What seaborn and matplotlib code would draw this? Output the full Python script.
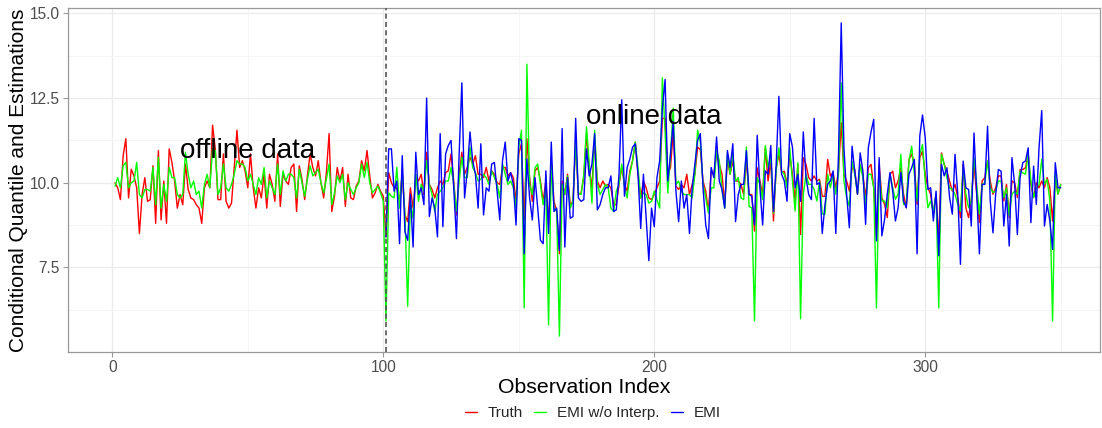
import numpy as np
import pandas as pd
import matplotlib
matplotlib.use("Agg")
import matplotlib.pyplot as plt
from matplotlib.lines import Line2D
import seaborn as sns

# ---------------- data ----------------
obs_index = list(range(1, 351))
online_start = 101
split_line = 101

truth = [
    10.0, 9.85, 9.5, 10.8, 11.3, 9.55, 10.4, 10.2, 9.85, 8.5,
    9.65, 10.15, 9.45, 9.5, 10.5, 8.8, 10.95, 8.9, 10.05, 8.8,
    11.0, 10.6, 10.05, 9.25, 9.65, 9.35, 10.55, 9.8, 9.55, 9.5,
    9.35, 9.25, 8.8, 9.85, 10.05, 9.85, 11.7, 11.0, 9.5, 9.5,
    10.85, 9.45, 9.25, 9.4, 10.45, 11.55, 10.45, 10.65, 10.35, 9.85,
    10.85, 9.85, 9.25, 9.85, 9.55, 10.25, 9.25, 10.25, 9.95, 9.45,
    10.85, 9.3, 10.25, 10.05, 9.95, 10.45, 10.55, 9.15, 10.5, 10.1,
    9.5, 10.2, 10.85, 10.45, 10.2, 10.65, 10.0, 9.55, 10.3, 11.45,
    9.15, 9.6, 10.45, 10.05, 10.45, 9.3, 10.25, 9.55, 9.5, 9.9,
    10.05, 10.65, 10.35, 10.95, 10.2, 9.55, 9.7, 9.95, 9.75, 9.6,
    8.4, 10.3, 10.0, 9.85, 9.85, 9.45, 10.25, 9.05, 8.85, 9.85,
    9.25, 10.15, 10.05, 10.25, 9.65, 10.9, 9.95, 9.8, 9.55, 9.85,
    10.05, 9.95, 10.3, 10.35, 10.85, 10.05, 9.05, 10.25, 10.9, 10.25,
    10.45, 10.75, 10.55, 10.8, 10.25, 10.25, 10.15, 10.45, 10.05, 10.35,
    10.25, 10.0, 9.95, 10.45, 10.45, 10.2, 10.3, 10.15, 9.45, 10.85,
    11.15, 8.9, 11.3, 10.15, 9.45, 10.35, 10.45, 10.05, 9.45, 10.05,
    8.75, 10.65, 9.45, 9.15, 7.9, 10.05, 9.65, 10.25, 9.35, 9.45,
    11.2, 9.65, 9.7, 10.15, 11.45, 10.45, 9.85, 11.25, 10.05, 9.85,
    10.05, 9.9, 9.95, 9.85, 9.35, 9.35, 9.95, 10.45, 9.95, 9.75,
    10.35, 10.65, 11.2, 10.25, 9.55, 10.05, 9.85, 9.55, 9.5, 9.65,
    9.85, 10.05, 11.9, 11.9, 10.25, 10.45, 11.5, 9.9, 9.8, 9.95,
    9.85, 10.25, 9.65, 9.95, 10.25, 11.05, 10.98, 10.05, 9.75, 9.15,
    10.35, 10.25, 10.85, 10.55, 10.25, 9.35, 10.65, 10.25, 10.65, 10.05,
    10.05, 9.95, 9.65, 10.65, 9.65, 9.65, 8.57, 10.44, 10.05, 9.65,
    11.03, 10.05, 10.64, 8.87, 10.44, 10.84, 10.3, 10.34, 9.95, 10.84,
    10.25, 9.46, 10.54, 8.47, 10.74, 10.54, 10.15, 10.05, 10.2, 10.05,
    10.1, 9.6, 9.6, 10.69, 10.2, 10.3, 9.85, 10.34, 11.77, 10.25,
    10.05, 9.75, 10.44, 10.39, 9.66, 10.54, 10.25, 9.56, 10.44, 10.54,
    9.85, 8.38, 10.54, 9.56, 9.36, 8.97, 10.25, 10.34, 9.85, 10.05,
    10.44, 9.66, 9.26, 10.69, 10.84, 10.54, 9.36, 10.74, 10.93, 10.25,
    9.85, 9.66, 9.07, 9.66, 8.28, 10.88, 10.54, 10.34, 10.05, 9.75,
    9.95, 9.56, 8.97, 10.54, 9.26, 8.97, 9.51, 10.54, 9.66, 8.82,
    10.05, 10.15, 10.64, 10.05, 9.66, 9.85, 10.2, 10.2, 9.46, 9.95,
    8.97, 10.05, 10.0, 9.56, 10.39, 10.39, 10.44, 10.84, 9.95, 9.56,
    10.0, 9.85, 10.05, 9.85, 10.15, 9.85, 8.87, 10.1, 9.66, 9.95,
]

emi_wo_interp = [
    9.9, 10.15, 9.85, 10.5, 10.6, 9.85, 10.0, 10.05, 10.6, 9.65,
    9.55, 9.8, 9.8, 9.75, 10.45, 9.35, 10.75, 9.25, 9.95, 9.45,
    10.45, 10.15, 10.15, 9.65, 9.55, 9.65, 10.9, 10.25, 9.85, 10.05,
    9.65, 9.75, 9.25, 9.95, 10.25, 9.85, 11.0, 10.95, 9.65, 9.85,
    10.55, 9.85, 9.75, 9.95, 10.25, 10.65, 10.55, 10.55, 10.45, 10.05,
    10.25, 9.95, 9.65, 10.15, 9.95, 10.45, 9.55, 10.05, 9.85, 9.65,
    10.55, 9.65, 10.35, 10.05, 10.25, 10.25, 10.15, 9.55, 10.4, 10.0,
    9.6, 10.1, 10.5, 10.2, 10.3, 10.4, 10.0, 9.7, 10.1, 10.55,
    9.35, 9.7, 10.2, 10.0, 10.25, 9.5, 10.0, 9.8, 9.65, 9.85,
    10.0, 10.55, 10.15, 10.6, 10.0, 9.7, 9.8, 9.9, 9.7, 9.45,
    5.92, 9.7, 9.6, 9.55, 10.45, 9.25, 10.35, 9.05, 6.35, 9.45,
    8.95, 10.25, 9.45, 9.95, 9.75, 10.65, 9.95, 9.65, 9.15, 9.65,
    9.75, 9.85, 10.05, 10.05, 10.45, 9.95, 9.15, 10.05, 10.75, 10.15,
    10.15, 11.05, 10.45, 10.3, 10.05, 10.1, 10.25, 10.15, 9.95, 10.35,
    10.15, 9.95, 9.55, 10.55, 10.25, 9.95, 10.05, 9.85, 9.25, 11.05,
    11.55, 6.3, 13.5, 9.95, 9.65, 10.45, 10.55, 9.95, 9.35, 9.8,
    5.8, 10.55, 9.25, 9.15, 5.47, 9.95, 9.65, 10.2, 9.25, 9.45,
    11.2, 9.7, 9.65, 10.25, 11.65, 10.55, 9.4, 11.55, 9.95, 9.65,
    9.8, 9.95, 9.85, 9.25, 9.15, 9.75, 9.95, 10.55, 9.9, 9.55,
    10.25, 10.65, 11.2, 10.45, 9.55, 9.7, 9.65, 9.4, 9.45, 9.75,
    9.5, 9.25, 13.1, 11.5, 9.7, 10.85, 12.2, 9.95, 10.05, 9.75,
    9.65, 9.65, 9.65, 9.55, 10.25, 11.55, 11.2, 9.95, 9.55, 9.1,
    9.85, 9.85, 10.95, 10.65, 9.8, 9.25, 10.85, 10.25, 10.85, 10.05,
    10.15, 9.55, 9.5, 11.05, 9.3, 9.25, 5.92, 10.15, 9.95, 9.5,
    11.1, 10.45, 10.75, 9.1, 10.35, 11.03, 10.34, 10.25, 9.85, 11.03,
    10.05, 9.16, 10.59, 5.98, 9.66, 10.25, 9.95, 9.95, 9.8, 9.46,
    10.05, 9.07, 9.07, 10.25, 9.85, 10.25, 9.66, 10.25, 12.95, 10.05,
    9.56, 9.31, 10.64, 10.25, 9.66, 10.54, 10.15, 9.36, 10.25, 10.25,
    9.85, 6.3, 10.34, 9.46, 9.46, 9.26, 10.25, 9.85, 9.51, 9.66,
    10.84, 9.36, 9.36, 10.64, 11.08, 10.25, 9.46, 10.84, 11.13, 10.05,
    9.26, 9.46, 9.16, 9.66, 6.3, 10.84, 10.54, 10.15, 9.85, 9.8,
    9.66, 9.36, 9.16, 10.44, 9.66, 9.26, 9.46, 10.74, 9.95, 9.07,
    9.95, 10.0, 10.64, 9.85, 9.71, 9.75, 10.05, 10.05, 9.56, 9.85,
    9.02, 9.66, 9.75, 9.66, 10.34, 10.29, 10.25, 10.84, 10.05, 9.56,
    9.85, 9.95, 10.69, 9.95, 10.1, 9.46, 5.92, 10.25, 9.66, 9.95,
]

# EMI is only available for the online part (index 101 .. 350)
emi = [
    8.4, 11.0, 11.0, 9.75, 10.05, 8.2, 10.8, 8.55, 8.3, 9.65,
    8.1, 10.9, 9.65, 9.85, 9.35, 12.5, 9.0, 9.55, 9.25, 8.4,
    11.45, 8.7, 10.85, 11.1, 11.25, 9.85, 8.35, 10.85, 12.95, 9.55,
    10.35, 11.5, 10.65, 10.25, 9.25, 11.15, 9.05, 9.85, 9.75, 10.55,
    10.6, 9.75, 8.9, 10.65, 11.2, 10.05, 10.3, 9.95, 8.75, 11.3,
    11.25, 7.9, 10.7, 9.55, 8.9, 10.15, 9.25, 8.3, 8.2, 10.35,
    8.5, 11.2, 9.15, 9.25, 8.0, 11.6, 8.1, 10.15, 8.95, 9.0,
    11.9, 9.55, 9.45, 9.5, 11.0, 10.2, 10.55, 11.45, 9.2, 9.35,
    9.65, 9.85, 9.85, 10.2, 9.15, 9.2, 10.25, 12.45, 9.6, 10.45,
    10.7, 11.05, 11.15, 10.25, 8.65, 10.25, 8.95, 7.7, 9.25, 8.7,
    10.15, 10.65, 12.2, 13.05, 10.05, 10.85, 11.8, 9.75, 8.85, 10.05,
    9.25, 9.65, 8.5, 9.85, 10.55, 11.25, 11.45, 9.85, 8.75, 8.35,
    10.45, 10.15, 11.35, 10.05, 9.8, 9.25, 10.95, 10.45, 11.15, 8.85,
    9.65, 9.95, 9.95, 10.95, 9.65, 9.6, 8.75, 11.4, 9.85, 8.75,
    10.35, 10.25, 11.1, 9.15, 10.55, 12.55, 10.25, 10.05, 9.45, 11.45,
    11.05, 9.85, 10.25, 9.45, 11.5, 10.15, 9.65, 9.5, 11.9, 9.95,
    10.0, 8.5, 9.35, 9.95, 10.05, 10.35, 8.5, 10.84, 14.72, 11.03,
    9.65, 8.67, 11.08, 10.34, 9.66, 10.88, 10.34, 8.77, 11.03, 11.5,
    11.87, 8.28, 10.74, 8.43, 8.92, 9.66, 10.3, 9.75, 8.87, 9.26,
    10.3, 9.46, 9.26, 10.25, 10.44, 10.69, 7.9, 11.38, 12.0, 11.33,
    9.8, 9.85, 8.87, 9.75, 7.84, 10.54, 10.2, 10.44, 9.56, 9.07,
    10.84, 9.66, 7.59, 10.64, 9.85, 9.8, 8.72, 11.47, 9.66, 7.9,
    9.95, 9.95, 11.67, 9.46, 8.52, 9.66, 10.39, 10.34, 8.72, 9.66,
    8.13, 10.74, 9.95, 8.47, 10.15, 10.59, 10.64, 11.03, 8.82, 10.49,
    9.36, 11.03, 12.13, 8.72, 9.36, 8.87, 8.03, 10.59, 9.85, 9.85,
]

series_names = ["Truth", "EMI w/o Interp.", "EMI"]
series_colors = ["#FF0000", "#00FF00", "#0000FF"]
y_ticks = [7.5, 10.0, 12.5, 15.0]
y_tick_labels = ["7.5", "10.0", "12.5", "15.0"]
x_ticks = [0, 100, 200, 300]

# ---------------- long-form table ----------------
df = pd.concat([
    pd.DataFrame({"idx": obs_index, "value": truth, "series": series_names[0]}),
    pd.DataFrame({"idx": obs_index, "value": emi_wo_interp, "series": series_names[1]}),
    pd.DataFrame({"idx": obs_index[online_start - 1:], "value": emi, "series": series_names[2]}),
], ignore_index=True)

# ---------------- style ----------------
sns.set_theme(style="white")
plt.rcParams["font.family"] = ["Liberation Sans", "DejaVu Sans"]

W, H = 1102, 428
fig = plt.figure(figsize=(W / 100, H / 100), dpi=100)
left, right, top, bottom = 68, 1100, 8, 352
ax = fig.add_axes([left / W, 1 - bottom / H, (right - left) / W, (bottom - top) / H])

palette = dict(zip(series_names, series_colors))
sns.lineplot(data=df, x="idx", y="value", hue="series", hue_order=series_names,
             palette=palette, linewidth=1.0, estimator=None, sort=False,
             legend=False, ax=ax)

ax.axvline(split_line, color="#555555", linestyle=(0, (3, 2)), linewidth=1.2, zorder=5)

ax.text(50, 10.95, "offline data", fontsize=20, ha="center", va="center", color="black")
ax.text(200, 11.95, "online data", fontsize=20, ha="center", va="center", color="black")

ax.set_xlim(-16.35, 364.5)
ax.set_ylim(5.0, 15.16)
ax.set_xticks(x_ticks)
ax.set_xticklabels([str(t) for t in x_ticks])
ax.set_xticks([50, 150, 250, 350], minor=True)
ax.set_yticks(y_ticks)
ax.set_yticklabels(y_tick_labels)
ax.set_yticks([6.25, 8.75, 11.25, 13.75], minor=True)

ax.grid(which="major", color="#EBEBEB", linewidth=0.9)
ax.grid(which="minor", color="#F4F4F4", linewidth=0.6)
ax.set_axisbelow(True)

for s in ax.spines.values():
    s.set_color("#999999")
    s.set_linewidth(0.9)

ax.tick_params(axis="both", which="major", length=3.5, width=0.8, color="#999999",
               labelsize=11.2, labelcolor="#4D4D4D", pad=2.5, direction="out",
               bottom=True, left=True)
ax.tick_params(axis="both", which="minor", length=0)

ax.set_xlabel("Observation Index", fontsize=15.3, color="black", labelpad=2)
ax.set_ylabel("Conditional Quantile and Estimations", fontsize=15, color="black", labelpad=1)

handles = [Line2D([0], [0], color=c, lw=1.0) for c in series_colors]
fig.legend(handles, series_names, loc="center", bbox_to_anchor=(0.538, 1 - 413 / H),
           ncol=3, frameon=False, fontsize=11, handlelength=0.8, handletextpad=0.72,
           columnspacing=0.72)

fig.savefig("out.png", dpi=100)
